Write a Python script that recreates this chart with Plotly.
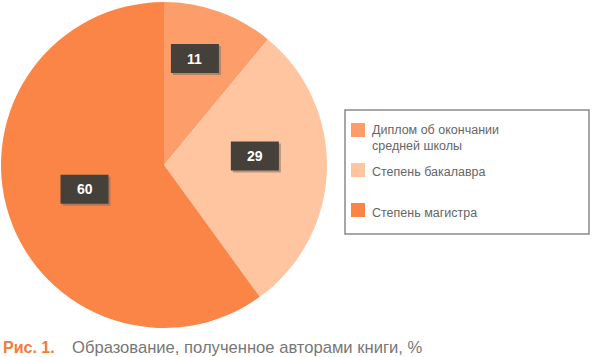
import math
import plotly.graph_objects as go

# ---- data ----
categories = ["Диплом об окончании<br>средней школы", "Степень бакалавра", "Степень магистра"]
values = [11, 29, 60]
caption_num = "Рис. 1."
caption_text = "Образование, полученное авторами книги, %"

# ---- style ----
colors = ["#FC9D6A", "#FFC4A0", "#FA8546"]
W, H = 600, 357
pie_left, pie_right, pie_top, pie_bottom = 1, 327, 2, 328
label_r = [0.68, 0.56, 0.51]          # radius fraction for value boxes
label_dtheta = [-3.6, -7.4, 1.0]      # angular tweak (deg)
font = "Liberation Sans, Arial, sans-serif"

def px(x):
    return x / W

def py(y):
    return 1 - y / H

fig = go.Figure()
fig.add_trace(go.Pie(
    values=values, labels=categories, sort=False, direction="clockwise", rotation=0,
    marker=dict(colors=colors, line=dict(width=0)),
    textinfo="none", hoverinfo="label+value", showlegend=False,
    domain=dict(x=[px(pie_left), px(pie_right)], y=[py(pie_bottom), py(pie_top)]),
))

cx = (pie_left + pie_right) / 2
cy = (pie_top + pie_bottom) / 2
R = (pie_right - pie_left) / 2
total = sum(values)
annotations = []
shapes = []
cum = 0
bw, bh = 48, 29
for i, v in enumerate(values):
    mid = (cum + v / 2) / total * 360 + label_dtheta[i]
    cum += v
    th = math.radians(mid)
    x = cx + label_r[i] * R * math.sin(th)
    y = cy - label_r[i] * R * math.cos(th)
    # shadow
    shapes.append(dict(type="rect", xref="paper", yref="paper",
                       x0=px(x - bw / 2 + 2), x1=px(x + bw / 2 + 2),
                       y0=py(y + bh / 2 + 2), y1=py(y - bh / 2 + 2),
                       fillcolor="rgba(120,110,100,0.55)", line=dict(width=0), layer="above"))
    shapes.append(dict(type="rect", xref="paper", yref="paper",
                       x0=px(x - bw / 2), x1=px(x + bw / 2),
                       y0=py(y + bh / 2), y1=py(y - bh / 2),
                       fillcolor="#46403A", line=dict(width=0), layer="above"))
    annotations.append(dict(x=px(x), y=py(y), xref="paper", yref="paper", text=f"<b>{v}</b>",
                            showarrow=False, font=dict(family=font, size=14, color="white"),
                            xanchor="center", yanchor="middle"))

# legend box
shapes.append(dict(type="rect", xref="paper", yref="paper",
                   x0=px(345), x1=px(589), y0=py(234), y1=py(110),
                   line=dict(color="#8a8a8a", width=1.5), fillcolor="white", layer="below"))
leg_sq_y = [123, 163, 203]
leg_txt_y = [138.5, 172, 213]
for i, lab in enumerate(categories):
    shapes.append(dict(type="rect", xref="paper", yref="paper",
                       x0=px(351), x1=px(365), y0=py(leg_sq_y[i] + 14), y1=py(leg_sq_y[i]),
                       fillcolor=colors[i], line=dict(width=0)))
    annotations.append(dict(x=px(370), y=py(leg_txt_y[i]), xref="paper", yref="paper", text=lab,
                            showarrow=False, xanchor="left", yanchor="middle", align="left",
                            font=dict(family=font, size=12.5, color="#666666")))

# caption
annotations.append(dict(x=px(1), y=py(347), xref="paper", yref="paper", text=f"<b>{caption_num}</b>",
                        showarrow=False, xanchor="left", yanchor="middle",
                        font=dict(family=font, size=16, color="#F47B3A")))
annotations.append(dict(x=px(70), y=py(347), xref="paper", yref="paper", text=caption_text,
                        showarrow=False, xanchor="left", yanchor="middle",
                        font=dict(family=font, size=16.6, color="#777777")))

fig.update_layout(width=W, height=H, margin=dict(l=0, r=0, t=0, b=0),
                  paper_bgcolor="white", plot_bgcolor="white",
                  shapes=shapes, annotations=annotations)
fig.write_html("out.html")
